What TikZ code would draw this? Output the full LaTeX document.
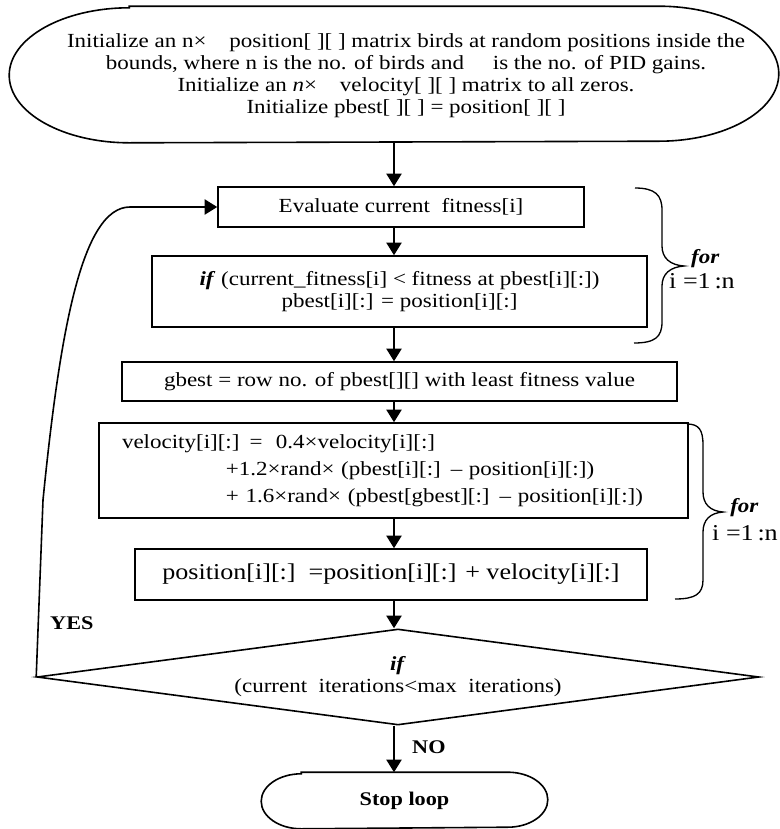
\documentclass[tikz,border=0pt]{standalone}
\usepackage{fontspec}
\setmainfont[FakeStretch=1.15]{Liberation Serif}
\usetikzlibrary{arrows.meta,shapes.geometric}

\tikzset{every picture/.style={line width=1.2pt}}
\tikzset{
  flowbox/.style={draw, rectangle, inner sep=0pt, align=center, font=\fontsize{15}{16.5}\selectfont},
  decision/.style={draw, diamond, aspect=7.5, inner sep=0pt, align=center, font=\fontsize{15}{16.5}\selectfont},
  flowarrow/.style={-{Triangle[width=11.5pt,length=9.5pt]}},
  lbl/.style={font=\fontsize{14.5}{16}\selectfont\bfseries},
  loopfor/.style={font=\fontsize{15}{16}\selectfont\bfseries\itshape},
  looprange/.style={font=\fontsize{17}{18}\selectfont},
}

\begin{document}
\begin{tikzpicture}[x=0.75pt,y=0.75pt,yscale=-1,xscale=1]
\useasboundingbox (0,0) rectangle (780,829);

        \coordinate (spine) at (394,0);

        % start
        \node (init) at (394,74.5) [minimum width=576pt, minimum height=101.25pt] {};
        \draw ([xshift=90pt]init.north west) -- ([xshift=-90pt]init.north east)
              arc[start angle=-90, end angle=90, x radius=120, y radius=67.5]
              -- ([xshift=90pt]init.south west)
              arc[start angle=90, end angle=270, x radius=120, y radius=67.5] -- cycle;
        \node[align=center, font=\fontsize{15}{16.5}\selectfont] (inittext) at (406,75.5)
              {Initialize an n×\ \ \ \ position[ ][ ] matrix birds at random positions inside the\\
               bounds, where n is the no. of birds and\ \ \ \ \ is the no. of PID gains.\\
               Initialize an \textit{n}×\ \ \ \ velocity[ ][ ] matrix to all zeros.\\
               Initialize pbest[ ][ ] = position[ ][ ]};

        \node[flowbox, minimum width=274.5pt, minimum height=30pt] (eval) at (401,207) {Evaluate current\ \ fitness[i]};
        \node[flowbox, minimum width=371.25pt, minimum height=53.25pt] (ifbox) at (399.5,291.5)
              {\textbf{\textit{if}} (current\_fitness[i] < fitness at pbest[i][:])\\ pbest[i][:] = position[i][:]};
        \node[flowbox, minimum width=416.25pt, minimum height=29.25pt] (gbest) at (399.5,381.5)
              {gbest = row no. of pbest[][] with least fitness value};
        \node[flowbox, align=left, text width=407.25pt, inner xsep=17.25pt, minimum height=71.25pt,
              font=\fontsize{15}{20.25}\selectfont] (vel) at (393.5,470.5)
              {velocity[i][:] =\ \ 0.4×velocity[i][:]\\
               \hspace*{78pt}+1.2×rand× (pbest[i][:] – position[i][:])\\
               \hspace*{78pt}+ 1.6×rand× (pbest[gbest][:] – position[i][:])};
        \node[flowbox, minimum width=384pt, minimum height=38.25pt, font=\fontsize{17}{18}\selectfont] (pos) at (391,574.5)
              {position[i][:]\ \ =position[i][:] + velocity[i][:]};
        \node[decision, minimum width=541.5pt, minimum height=72pt] (cond) at (398,677)
              {\textbf{\textit{if}}\\(current\ \ iterations<max\ \ iterations)};

        % stop
        \node[lbl] (stop) at (404.5,800.5) [minimum width=213.75pt, minimum height=41.25pt] {Stop loop};
        \draw ([xshift=30pt]stop.north west) -- ([xshift=-30pt]stop.north east)
              arc[start angle=-90, end angle=90, x radius=40, y radius=27.5]
              -- ([xshift=30pt]stop.south west)
              arc[start angle=90, end angle=270, x radius=40, y radius=27.5] -- cycle;

        \draw[flowarrow] (init.south -| spine) -- (eval.north -| spine);
        \draw[flowarrow] (eval.south -| spine) -- (ifbox.north -| spine);
        \draw[flowarrow] (ifbox.south -| spine) -- (gbest.north -| spine);
        \draw[flowarrow] (gbest.south -| spine) -- (vel.north -| spine);
        \draw[flowarrow] (vel.south -| spine) -- (pos.north -| spine);
        \draw[flowarrow] (pos.south -| spine) -- (cond.north -| spine);
        \draw[flowarrow] (cond.south -| spine) -- (stop.north -| spine);

        \node[lbl, anchor=west] (no) at (407,747) {NO};
        \node[lbl, anchor=west] (yes) at (45,623) {YES};

        % loop back
        \draw[flowarrow] (cond.west) -- (43,500) .. controls (60,330) and (82,207) .. (130,207) -- (eval.west);

        % braces
        \draw[line width=1pt] (635,188) .. controls (655,188) and (662,195) .. (662,210) -- (662,246)
              .. controls (662,258) and (670,265) .. (684,266) .. controls (670,267) and (662,274) .. (662,286)
              -- (662,322) .. controls (662,337) and (655,343) .. (634,343);
        \node[loopfor, anchor=west] (for1) at (686,259) {for};
        \node[looprange, anchor=west] (range1) at (664,281) {i =1\,:n};

        \draw[line width=1pt] (687,424) .. controls (699,424) and (703,430) .. (703,445) -- (703,492)
              .. controls (703,504) and (710,511) .. (723,512) .. controls (710,513) and (703,520) .. (703,532)
              -- (703,580) .. controls (703,594) and (695,599) .. (675,599);
        \node[loopfor, anchor=west] (for2) at (725,508) {for};
        \node[looprange, anchor=west] (range2) at (707,533) {i =1\,:n};

\end{tikzpicture}
\end{document}
